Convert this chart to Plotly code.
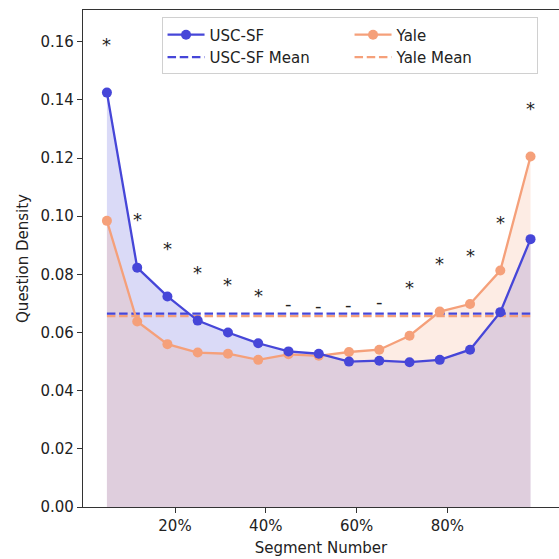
import numpy as np
import plotly.graph_objects as go

# ---- data ----
segment_pct = [5.0, 11.67, 18.33, 25.0, 31.67, 38.33, 45.0, 51.67, 58.33, 65.0, 71.67, 78.33, 85.0, 91.67, 98.33]
usc_sf = [0.1425, 0.0823, 0.0724, 0.0641, 0.0600, 0.0563, 0.0535, 0.0527, 0.0500, 0.0503, 0.0498, 0.0506, 0.0541, 0.0670, 0.0921]
yale = [0.0984, 0.0638, 0.0560, 0.0531, 0.0527, 0.0506, 0.0525, 0.0520, 0.0533, 0.0541, 0.0589, 0.0672, 0.0698, 0.0813, 0.1205]
significance = ["*", "*", "*", "*", "*", "*", "-", "-", "-", "-", "*", "*", "*", "*", "*"]
x_tick_vals = [20, 40, 60, 80]
x_tick_text = ["20%", "40%", "60%", "80%"]
y_tick_vals = [0.00, 0.02, 0.04, 0.06, 0.08, 0.10, 0.12, 0.14, 0.16]

BLUE = "#4646d8"
ORANGE = "#f5a07a"
FONT = "DejaVu Sans"

usc_mean = float(np.mean(usc_sf))
yale_mean = float(np.mean(yale))

fig = go.Figure()

# fills
fig.add_trace(go.Scatter(x=segment_pct, y=usc_sf, mode="none", fill="tozeroy",
                         fillcolor="rgba(70,70,216,0.2)", showlegend=False, hoverinfo="skip"))
fig.add_trace(go.Scatter(x=segment_pct, y=yale, mode="none", fill="tozeroy",
                         fillcolor="rgba(245,160,122,0.2)", showlegend=False, hoverinfo="skip"))

# means
fig.add_trace(go.Scatter(x=[segment_pct[0], segment_pct[-1]], y=[yale_mean, yale_mean], mode="lines",
                         line=dict(color=ORANGE, width=2.3, dash="8.5px,3.7px"), name="Yale Mean",
                         legendrank=4))
fig.add_trace(go.Scatter(x=[segment_pct[0], segment_pct[-1]], y=[usc_mean, usc_mean], mode="lines",
                         line=dict(color=BLUE, width=2.3, dash="8.5px,3.7px"), name="USC-SF Mean",
                         legendrank=3))

# series
fig.add_trace(go.Scatter(x=segment_pct, y=yale, mode="lines+markers",
                         line=dict(color=ORANGE, width=2.3), marker=dict(color=ORANGE, size=10),
                         name="Yale", legendrank=2))
fig.add_trace(go.Scatter(x=segment_pct, y=usc_sf, mode="lines+markers",
                         line=dict(color=BLUE, width=2.3), marker=dict(color=BLUE, size=10),
                         name="USC-SF", legendrank=1))

# significance markers
for xv, a, b, s in zip(segment_pct, usc_sf, yale, significance):
    top = max(a, b)
    if s == "*":
        yv = top + 0.0166
    else:
        yv = top + 0.0165
    fig.add_annotation(x=xv, y=yv, text=s, showarrow=False, xanchor="center", yanchor="middle",
                       font=dict(family=FONT, size=18, color="#222"))

fig.update_layout(
    width=559, height=559,
    margin=dict(l=83, r=0, t=10, b=52),
    plot_bgcolor="white", paper_bgcolor="white",
    font=dict(family=FONT, size=15, color="#222"),
    showlegend=True,
    legend=dict(orientation="h", x=0.165, y=0.985, xanchor="left", yanchor="top",
                bgcolor="rgba(255,255,255,0.8)", bordercolor="#d0d0d0", borderwidth=1,
                entrywidth=135, font=dict(family=FONT, size=15, color="#222"),
                itemwidth=37, tracegroupgap=0),
    xaxis=dict(range=[-0.27, 104.6], tickvals=x_tick_vals, ticktext=x_tick_text,
               showgrid=False, zeroline=False, showline=True, linecolor="#333", linewidth=1.2,
               mirror=True, ticks="outside", ticklen=5, tickcolor="#333", tickwidth=1.2,
               automargin=False,
               title=dict(text="Segment Number", standoff=8, font=dict(size=15))),
    yaxis=dict(range=[0, 0.1709], tickvals=y_tick_vals, tickformat=".2f",
               showgrid=False, zeroline=False, showline=True, linecolor="#333", linewidth=1.2,
               ticks="outside", ticklen=5, tickcolor="#333", tickwidth=1.2,
               title=dict(text="Question Density", standoff=8, font=dict(size=15))),
)

fig.write_html("out.html", config={"displayModeBar": False},
               post_script="document.body.style.margin='0';document.body.style.overflow='hidden';")
